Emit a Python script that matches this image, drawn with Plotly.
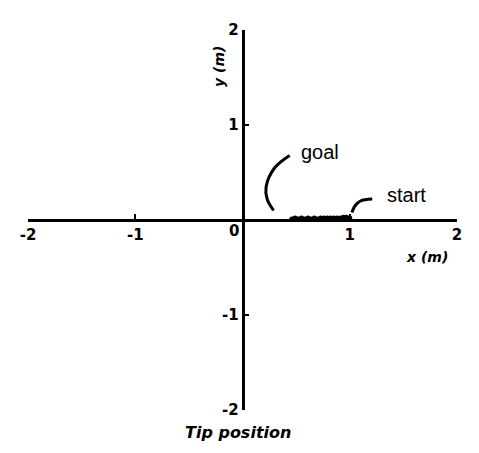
import plotly.graph_objects as go

# ~~~DATA~~~
tick_vals = [-2, -1, 1, 2]
tick_text = ["-2", "-1", "1", "2"]

# tip trajectory
path_x = [0.46, 0.49, 0.52, 0.55, 0.58, 0.61, 0.64, 0.67, 0.70, 0.73, 0.76, 0.79, 0.82, 0.85, 0.88, 0.91, 0.94, 0.97, 1.0]
path_y = [0.01, 0.02, 0.01, 0.02, 0.01, 0.02, 0.01, 0.02, 0.01, 0.02, 0.02, 0.02, 0.02, 0.02, 0.02, 0.02, 0.03, 0.03, 0.02]

# leader curves for the labels
goal_x = [0.29, 0.23, 0.22, 0.30, 0.44]
goal_y = [0.10, 0.22, 0.35, 0.55, 0.68]
start_x = [1.02, 1.05, 1.10, 1.21]
start_y = [0.08, 0.15, 0.20, 0.22]

fig = go.Figure()

# Trajectory
fig.add_trace(go.Scatter(x=path_x, y=path_y, mode="lines+markers",
                         line=dict(color="black", width=4),
                         marker=dict(color="black", size=5), showlegend=False))

# Leaders
fig.add_trace(go.Scatter(x=goal_x, y=goal_y, mode="lines", line=dict(color="black", width=3, shape="spline"), showlegend=False))
fig.add_trace(go.Scatter(x=start_x, y=start_y, mode="lines", line=dict(color="black", width=3, shape="spline"), showlegend=False))

bold = dict(family="DejaVu Sans", size=15, color="black", weight="bold")

# Axes through the origin
fig.update_xaxes(range=[-2, 2], anchor="free", position=0.5, automargin=False,
                 showline=True, linecolor="black", linewidth=2.5,
                 showgrid=False, zeroline=False,
                 ticks="inside", ticklen=5, tickwidth=2, tickcolor="black",
                 tickvals=tick_vals, ticktext=tick_text, tickfont=bold)
fig.update_yaxes(range=[-2, 2], anchor="free", position=0.5, automargin=False,
                 showline=True, linecolor="black", linewidth=2.5,
                 showgrid=False, zeroline=False,
                 ticks="inside", ticklen=5, tickwidth=2, tickcolor="black",
                 tickvals=tick_vals, ticktext=tick_text, tickfont=bold)

# Labels
fig.add_annotation(x=-0.08, y=-0.12, text="0", showarrow=False, font=bold)
fig.add_annotation(x=-0.22, y=1.62, text="y (m)", textangle=-90, showarrow=False,
                   font=dict(family="DejaVu Sans", size=14, color="black", weight="bold", style="italic"))
fig.add_annotation(x=1.72, y=-0.39, text="x (m)", showarrow=False,
                   font=dict(family="DejaVu Sans", size=14, color="black", weight="bold", style="italic"))
fig.add_annotation(x=0.72, y=0.72, text="goal", showarrow=False,
                   font=dict(family="Liberation Sans", size=20, color="black"))
fig.add_annotation(x=1.53, y=0.26, text="start", showarrow=False,
                   font=dict(family="Liberation Sans", size=20, color="black"))
fig.add_annotation(xref="paper", yref="paper", x=0.49, y=-0.09, yanchor="bottom",
                   text="Tip position", showarrow=False,
                   font=dict(family="DejaVu Sans", size=16, color="black", weight="bold", style="italic"))

# page body has an 8px margin, so the figure is shrunk to keep the plot where it was
fig.update_layout(width=463, height=437, margin=dict(l=20, r=14, t=22, b=35),
                  plot_bgcolor="white", paper_bgcolor="white")

fig.write_html("out.html")
